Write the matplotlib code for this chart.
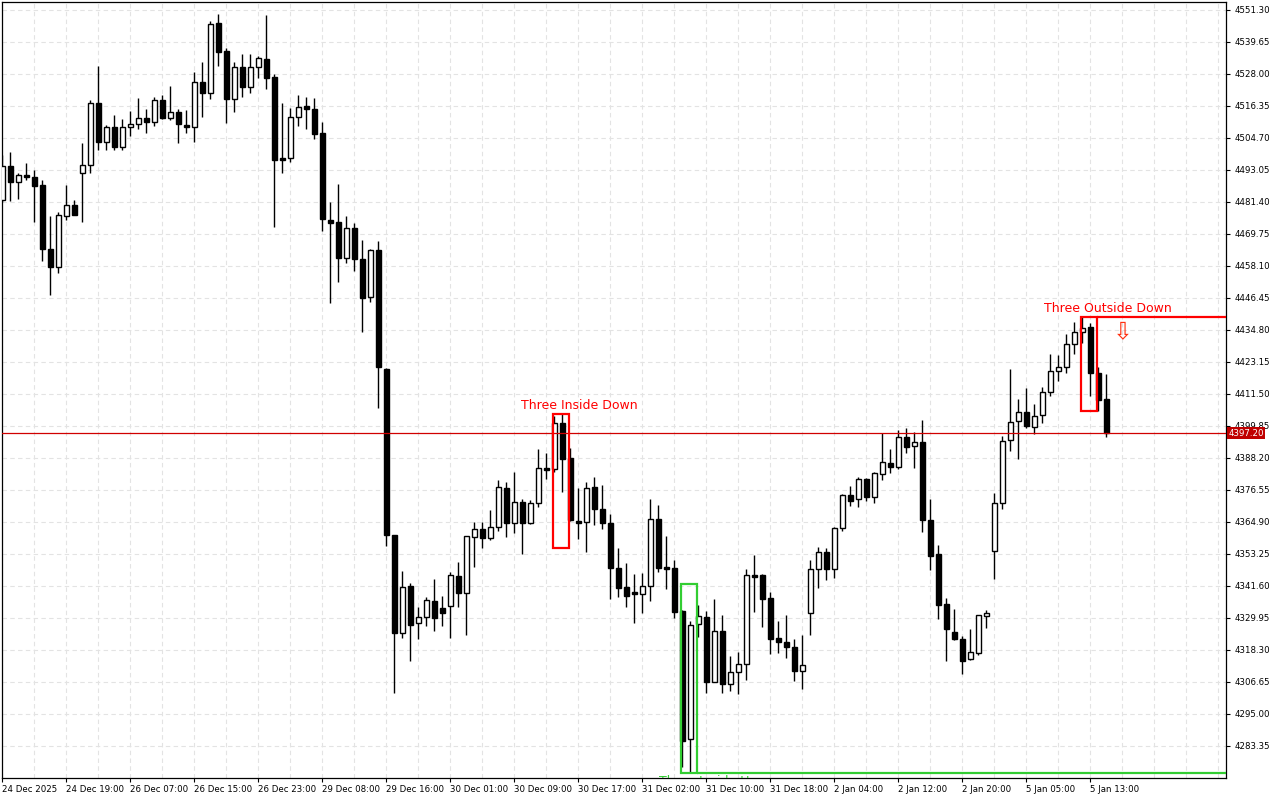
import matplotlib
matplotlib.use("Agg")
import matplotlib.pyplot as plt
import matplotlib.transforms as mtransforms
from matplotlib.patches import Rectangle

plt.rcParams['font.family'] = ['DejaVu Sans']

# ---------------- data (H1 candles) ----------------
opens = [4482.1, 4494.5, 4488.8, 4491.2, 4490.4, 4487.6, 4464.4, 4457.9, 4476.4, 4480.2,
         4491.9, 4494.9, 4517.3, 4503.4, 4508.6, 4501.5, 4508.6, 4509.7, 4511.9, 4510.6,
         4518.5, 4512.1, 4514.1, 4509.3, 4508.6, 4525.1, 4521.0, 4546.5, 4536.3, 4518.8,
         4530.7, 4523.4, 4530.7, 4533.6, 4526.8, 4497.4, 4497.3, 4512.2, 4516.4, 4515.2,
         4506.4, 4474.7, 4474.0, 4460.9, 4471.8, 4460.5, 4446.7, 4463.8, 4420.5, 4360.2,
         4324.6, 4341.5, 4328.2, 4330.4, 4336.0, 4333.5, 4334.4, 4345.1, 4339.2, 4359.5,
         4362.5, 4359.0, 4363.0, 4377.2, 4364.7, 4372.1, 4364.7, 4371.7, 4384.6, 4384.1,
         4400.8, 4388.1, 4365.3, 4364.8, 4377.5, 4369.5, 4364.4, 4348.0, 4341.1, 4339.5,
         4338.6, 4341.7, 4365.9, 4348.4, 4348.0, 4332.5, 4285.8, 4327.6, 4330.3, 4306.8,
         4325.1, 4305.8, 4310.4, 4313.2, 4345.5, 4345.5, 4337.2, 4322.5, 4321.1, 4319.3,
         4310.8, 4331.9, 4347.7, 4354.0, 4347.7, 4362.6, 4374.7, 4373.2, 4380.4, 4374.1,
         4382.2, 4386.3, 4385.0, 4395.7, 4392.4, 4393.9, 4365.6, 4353.1, 4335.0, 4324.9,
         4322.2, 4314.9, 4317.3, 4330.8, 4354.4, 4371.9, 4394.6, 4401.6, 4405.1, 4399.4,
         4403.8, 4412.1, 4419.9, 4421.4, 4429.6, 4434.2, 4435.8, 4419.0, 4409.6]
highs = [4498.5, 4499.6, 4492.0, 4495.6, 4493.0, 4489.4, 4476.3, 4477.8, 4487.6, 4482.1,
         4502.8, 4518.5, 4530.9, 4509.4, 4513.1, 4511.6, 4514.5, 4519.3, 4515.3, 4519.5,
         4520.3, 4523.6, 4515.3, 4514.9, 4528.7, 4532.4, 4547.3, 4549.8, 4537.4, 4532.3,
         4535.2, 4535.2, 4534.6, 4549.4, 4527.9, 4517.3, 4515.5, 4520.4, 4519.5, 4519.2,
         4510.4, 4481.3, 4487.8, 4476.3, 4473.9, 4467.6, 4464.2, 4467.1, 4421.0, 4360.2,
         4347.1, 4342.6, 4333.9, 4337.6, 4344.2, 4337.9, 4346.7, 4350.3, 4359.9, 4364.8,
         4364.9, 4369.3, 4380.2, 4379.6, 4383.0, 4373.3, 4372.9, 4391.5, 4390.1, 4403.5,
         4404.2, 4391.7, 4377.2, 4379.4, 4381.2, 4378.4, 4367.8, 4355.3, 4349.9, 4345.9,
         4346.2, 4373.2, 4371.1, 4359.8, 4350.9, 4332.8, 4328.9, 4334.6, 4332.5, 4337.0,
         4331.0, 4316.2, 4317.5, 4347.8, 4352.9, 4345.8, 4339.3, 4328.9, 4331.0, 4322.3,
         4323.8, 4351.0, 4355.7, 4355.3, 4363.0, 4375.1, 4378.1, 4381.4, 4380.8, 4383.2,
         4397.2, 4391.5, 4398.4, 4399.0, 4397.8, 4402.0, 4373.2, 4356.5, 4337.1, 4333.3,
         4323.4, 4325.8, 4331.0, 4332.9, 4375.4, 4396.2, 4420.6, 4409.6, 4413.6, 4407.9,
         4413.9, 4425.9, 4425.7, 4433.2, 4437.6, 4439.6, 4437.2, 4421.2, 4418.7]
lows = [4481.4, 4481.9, 4482.5, 4489.5, 4474.2, 4460.0, 4447.5, 4455.7, 4474.9, 4476.5,
        4474.2, 4492.1, 4500.3, 4500.3, 4500.3, 4500.3, 4505.4, 4507.9, 4506.6, 4509.2,
        4511.5, 4511.3, 4502.8, 4506.4, 4503.4, 4512.5, 4519.0, 4531.0, 4510.1, 4514.3,
        4519.7, 4521.2, 4526.7, 4522.7, 4472.4, 4492.1, 4496.1, 4509.2, 4508.0, 4504.3,
        4471.0, 4444.7, 4452.4, 4459.1, 4456.4, 4434.2, 4445.1, 4406.5, 4356.3, 4302.8,
        4322.8, 4314.4, 4322.2, 4327.2, 4325.3, 4327.2, 4322.8, 4334.1, 4323.8, 4348.4,
        4355.5, 4358.4, 4361.7, 4359.3, 4361.0, 4353.3, 4364.2, 4370.5, 4380.6, 4383.2,
        4375.9, 4365.2, 4358.7, 4354.1, 4363.9, 4362.2, 4337.0, 4337.5, 4334.1, 4328.2,
        4331.9, 4336.2, 4346.6, 4340.6, 4330.1, 4275.6, 4273.6, 4323.1, 4302.8, 4306.5,
        4302.5, 4303.4, 4302.3, 4307.4, 4332.2, 4326.8, 4316.7, 4317.3, 4315.3, 4307.1,
        4304.0, 4323.9, 4341.0, 4343.8, 4344.4, 4361.7, 4370.7, 4370.5, 4372.5, 4371.7,
        4380.2, 4382.8, 4384.1, 4390.1, 4384.7, 4361.4, 4347.4, 4329.6, 4314.4, 4321.9,
        4309.4, 4314.5, 4316.3, 4326.4, 4344.2, 4369.7, 4390.8, 4387.8, 4399.2, 4396.9,
        4400.8, 4410.9, 4416.3, 4419.0, 4426.1, 4430.0, 4410.9, 4405.4, 4395.7]
closes = [4494.5, 4488.7, 4491.2, 4490.4, 4487.3, 4464.4, 4457.9, 4476.6, 4480.2, 4476.8,
          4494.9, 4517.4, 4503.4, 4508.6, 4501.5, 4508.6, 4509.7, 4511.9, 4510.6, 4518.5,
          4512.1, 4514.1, 4509.7, 4508.6, 4525.1, 4521.0, 4546.1, 4536.1, 4519.0, 4530.7,
          4523.4, 4530.7, 4533.9, 4526.7, 4496.7, 4496.7, 4512.2, 4515.9, 4515.2, 4506.1,
          4475.1, 4473.9, 4460.9, 4471.8, 4460.5, 4446.3, 4463.8, 4421.2, 4360.2, 4324.6,
          4341.1, 4327.4, 4330.4, 4336.4, 4330.1, 4331.7, 4345.5, 4339.2, 4359.7, 4362.2,
          4359.0, 4363.2, 4377.5, 4364.4, 4372.1, 4364.4, 4371.7, 4384.5, 4383.9, 4400.8,
          4388.0, 4365.6, 4364.4, 4377.2, 4369.7, 4364.4, 4348.0, 4340.8, 4338.1, 4338.6,
          4341.7, 4365.9, 4348.2, 4347.9, 4332.2, 4285.3, 4327.4, 4330.6, 4306.8, 4325.1,
          4305.8, 4310.4, 4313.2, 4345.5, 4345.0, 4336.8, 4322.4, 4321.3, 4319.3, 4310.8,
          4312.7, 4347.7, 4353.9, 4347.7, 4362.6, 4374.7, 4372.6, 4380.4, 4374.1, 4382.6,
          4386.6, 4385.0, 4395.7, 4392.3, 4393.9, 4365.6, 4352.6, 4334.7, 4325.9, 4322.4,
          4314.4, 4317.5, 4330.9, 4331.7, 4371.9, 4394.4, 4401.2, 4405.1, 4399.9, 4403.6,
          4412.1, 4419.9, 4421.4, 4429.6, 4434.2, 4435.6, 4419.0, 4409.3, 4397.2]

time_labels = ["24 Dec 2025", "24 Dec 19:00", "26 Dec 07:00", "26 Dec 15:00", "26 Dec 23:00",
               "29 Dec 08:00", "29 Dec 16:00", "30 Dec 01:00", "30 Dec 09:00", "30 Dec 17:00",
               "31 Dec 02:00", "31 Dec 10:00", "31 Dec 18:00", "2 Jan 04:00", "2 Jan 12:00",
               "2 Jan 20:00", "5 Jan 05:00", "5 Jan 13:00"]
label_every = 8

price_ticks = [4283.35, 4295.00, 4306.65, 4318.30, 4329.95, 4341.60, 4353.25, 4364.90,
               4376.55, 4388.20, 4399.85, 4411.50, 4423.15, 4434.80, 4446.45, 4458.10,
               4469.75, 4481.40, 4493.05, 4504.70, 4516.35, 4528.00, 4539.65, 4551.30]
current_price = 4397.20

# candlestick patterns
pattern_names = ["Three Inside Down", "Three Inside Up", "Three Outside Down"]
pattern_start = [69, 85, 135]
pattern_end = [71, 87, 137]
pattern_top = [4404.2, 4342.4, 4439.6]
pattern_bottom = [4355.5, 4273.6, 4405.4]
pattern_bearish = [True, False, True]
pattern_extend = [False, True, True]
pattern_colors = ["#ff0000", "#32cd32", "#ff0000"]
signal_bar = 140

# ---------------- figure ----------------
W, H = 1280, 800
fig = plt.figure(figsize=(W / 100, H / 100), dpi=100)
fig.patch.set_facecolor("white")
ax = fig.add_axes([2 / W, 22 / H, 1224 / W, 776 / H])
n = len(opens)
x_max = 152.96
ax.set_xlim(-0.04, x_max)
ax.set_ylim(4271.70, 4554.21)

# grid
grid_kw = dict(color="#e3e3e3", linewidth=0.8, linestyle=(0, (4, 3)), zorder=0)
for gx in range(0, int(x_max) + 1, 4):
    ax.axvline(gx, **grid_kw)
for gy in price_ticks:
    ax.axhline(gy, **grid_kw)

# candles
body_w = 0.56
for i in range(n):
    o, h, l, c = opens[i], highs[i], lows[i], closes[i]
    ax.vlines(i, l, h, color="black", linewidth=1.0, zorder=2)
    bull = c >= o
    bottom = min(o, c)
    height = max(abs(c - o), 0.35)
    ax.add_patch(Rectangle((i - body_w / 2, bottom), body_w, height,
                           facecolor="white" if bull else "black",
                           edgecolor="black", linewidth=1.0, zorder=3))

# current price line
ax.axhline(current_price, color="#d00000", linewidth=0.9, zorder=4)

# patterns
for name, s, e, top, bot, bear, ext, col in zip(pattern_names, pattern_start, pattern_end,
                                                pattern_top, pattern_bottom, pattern_bearish,
                                                pattern_extend, pattern_colors):
    x0 = s - 0.12
    x1 = e - 0.12
    ax.add_patch(Rectangle((x0, bot), x1 - x0, top - bot, fill=False,
                           edgecolor=col, linewidth=1.6, zorder=5))
    if ext:
        lvl = top if bear else bot
        ax.plot([x1, x_max], [lvl, lvl], color=col, linewidth=1.6, zorder=5,
                solid_capstyle="butt")
    xc = x0 + 3.3
    if bear:
        tr = ax.transData + mtransforms.ScaledTranslation(0, 1.5 / 72, fig.dpi_scale_trans)
        ax.text(xc, top, name, transform=tr, ha="center", va="bottom", color=col,
                fontsize=9, zorder=6)
    else:
        tr = ax.transData + mtransforms.ScaledTranslation(0, -1.5 / 72, fig.dpi_scale_trans)
        t = ax.text(xc, bot, name, transform=tr, ha="center", va="top", color=col,
                    fontsize=9, zorder=6, clip_on=True)
        t.set_clip_box(ax.bbox)

# signal arrow
tr_arrow = ax.transData + mtransforms.ScaledTranslation(0, -2 / 72, fig.dpi_scale_trans)
ax.text(signal_bar, pattern_top[-1], "\u21e9", transform=tr_arrow, ha="center", va="top",
        color="#ff3010", fontsize=17, zorder=6)

# axes styling
for sp in ax.spines.values():
    sp.set_color("black")
    sp.set_linewidth(0.9)
ax.yaxis.tick_right()
ax.set_yticks(price_ticks)
ax.set_yticklabels([f"{v:.2f}" for v in price_ticks])
ax.tick_params(axis="y", direction="out", length=3, width=0.8, labelsize=6.2, pad=3,
               colors="black")
xt = [i * label_every for i in range(len(time_labels))]
ax.set_xticks(xt)
ax.set_xticklabels(time_labels)
ax.tick_params(axis="x", direction="out", length=3, width=0.8, labelsize=6.2, pad=2,
               colors="black")
for lab in ax.get_xticklabels():
    lab.set_ha("left")

# current price label on the axis
trans = mtransforms.blended_transform_factory(ax.transAxes, ax.transData)
ax.text(1.0018, current_price, f"{current_price:.2f}", transform=trans, ha="left",
        va="center", fontsize=6.2, color="white", zorder=10,
        bbox=dict(boxstyle="square,pad=0.15", facecolor="#c00000", edgecolor="none"),
        clip_on=False)

fig.savefig("out.png", dpi=100, facecolor="white")
